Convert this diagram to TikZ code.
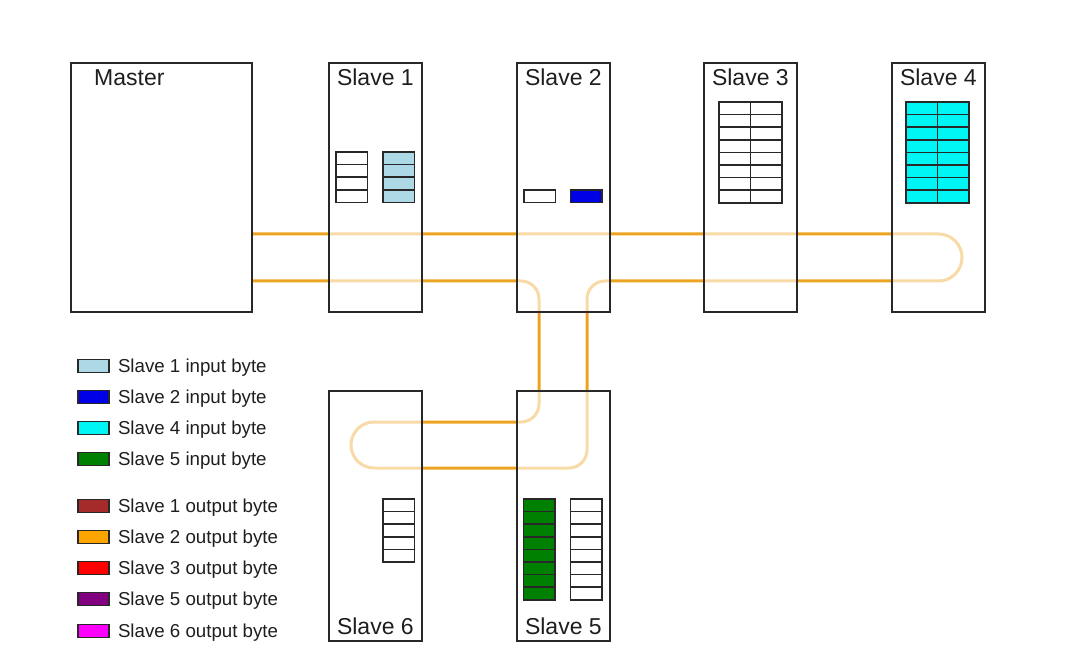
\documentclass[tikz,border=0pt]{standalone}
\usepackage{fontspec}
\setmainfont{Liberation Sans}
\usepackage{xcolor}
\usepackage{tikz}

\definecolor{busorange}{RGB}{236,164,32}
\definecolor{boxgray}{RGB}{40,40,40}
\definecolor{txtgray}{RGB}{30,30,30}
\definecolor{inlightblue}{RGB}{173,216,230}
\definecolor{inblue}{RGB}{0,0,230}
\definecolor{incyan}{RGB}{0,245,245}
\definecolor{ingreen}{RGB}{0,128,0}
\definecolor{outbrown}{RGB}{165,42,42}
\definecolor{outorange}{RGB}{255,165,0}
\definecolor{outred}{RGB}{255,0,0}
\definecolor{outpurple}{RGB}{128,0,128}
\definecolor{outmagenta}{RGB}{255,0,255}

% one column of byte cells: x, top y, rows, fill
\newcommand{\bytecol}[4]{%
  \foreach \r in {1,...,#3}{\draw[cell,fill=#4] (#1,{#2+(\r-1)*12.6}) rectangle ++(31.5,12.6);}}

\begin{document}
\begin{tikzpicture}[x=1pt,y=-1pt,
  unit/.style={draw=boxgray,line width=1.8pt,fill=white,fill opacity=0.6,minimum width=93pt,minimum height=249pt,inner sep=0pt,anchor=north west},
  title/.style={font=\fontsize{23}{27}\selectfont,text=txtgray,inner sep=0pt},
  bus/.style={draw=busorange,line width=3pt},
  cell/.style={draw=boxgray,line width=1.7pt},
  swatch/.style={draw=boxgray,line width=1.6pt,minimum width=31pt,minimum height=13pt,inner sep=0pt},
  legtext/.style={font=\fontsize{18.7}{22}\selectfont,text=txtgray,inner sep=0pt,anchor=base west}]
\useasboundingbox (0,0) rectangle (1080,663);

% ring of the bus
\coordinate (b1) at (251,281);
\coordinate (b2) at (251,234);
\draw[bus] (b1) [rounded corners=18] -- (539,281) -- (539,422) [rounded corners=23] -- (351,422) -- (351,468) [rounded corners=18] -- (587,468) -- (587,281) [rounded corners=23.5] -- (962,281) -- (962,234) [sharp corners] -- (b2);

% devices
\node[unit,minimum width=181pt] (M) at (70,62) {};
\node[unit] (S1) at (328,62) {};
\node[unit] (S2) at (516,62) {};
\node[unit] (S3) at (703,62) {};
\node[unit] (S4) at (891,62) {};
\node[unit,minimum height=250pt] (S6) at (328,390) {};
\node[unit,minimum height=250pt] (S5) at (516,390) {};

\node[title,anchor=base west] (tM) at ([xshift=24pt,yshift=-23.5pt]M.north west) {Master};
\node[title,anchor=base] (t1) at ([yshift=-23.5pt]S1.north) {Slave 1};
\node[title,anchor=base] (t2) at ([yshift=-23.5pt]S2.north) {Slave 2};
\node[title,anchor=base] (t3) at ([yshift=-23.5pt]S3.north) {Slave 3};
\node[title,anchor=base] (t4) at ([yshift=-23.5pt]S4.north) {Slave 4};
\node[title,anchor=base] (t6) at ([yshift=7.5pt]S6.south) {Slave 6};
\node[title,anchor=base] (t5) at ([yshift=7.5pt]S5.south) {Slave 5};

% byte cells
\bytecol{336}{152}{4}{white}
\bytecol{383}{152}{4}{inlightblue}
\bytecol{524}{190}{1}{white}
\bytecol{570.5}{190}{1}{inblue}
\bytecol{719}{102}{8}{white}
\bytecol{750.5}{102}{8}{white}
\bytecol{906}{102}{8}{incyan}
\bytecol{937.5}{102}{8}{incyan}
\bytecol{383}{499}{5}{white}
\bytecol{523.5}{499}{8}{ingreen}
\bytecol{570.5}{499}{8}{white}

% legend
\foreach \col/\txt/\y [count=\i] in {inlightblue/Slave 1 input byte/366, inblue/Slave 2 input byte/397, incyan/Slave 4 input byte/428, ingreen/Slave 5 input byte/459, outbrown/Slave 1 output byte/506, outorange/Slave 2 output byte/537, outred/Slave 3 output byte/568, outpurple/Slave 5 output byte/599, outmagenta/Slave 6 output byte/631}{
  \node[swatch,fill=\col] (sw\i) at (93.5,\y) {};
  \node[legtext] (lt\i) at ([xshift=8pt,yshift=-6.5pt]sw\i.east) {\txt};
}

\end{tikzpicture}
\end{document}
